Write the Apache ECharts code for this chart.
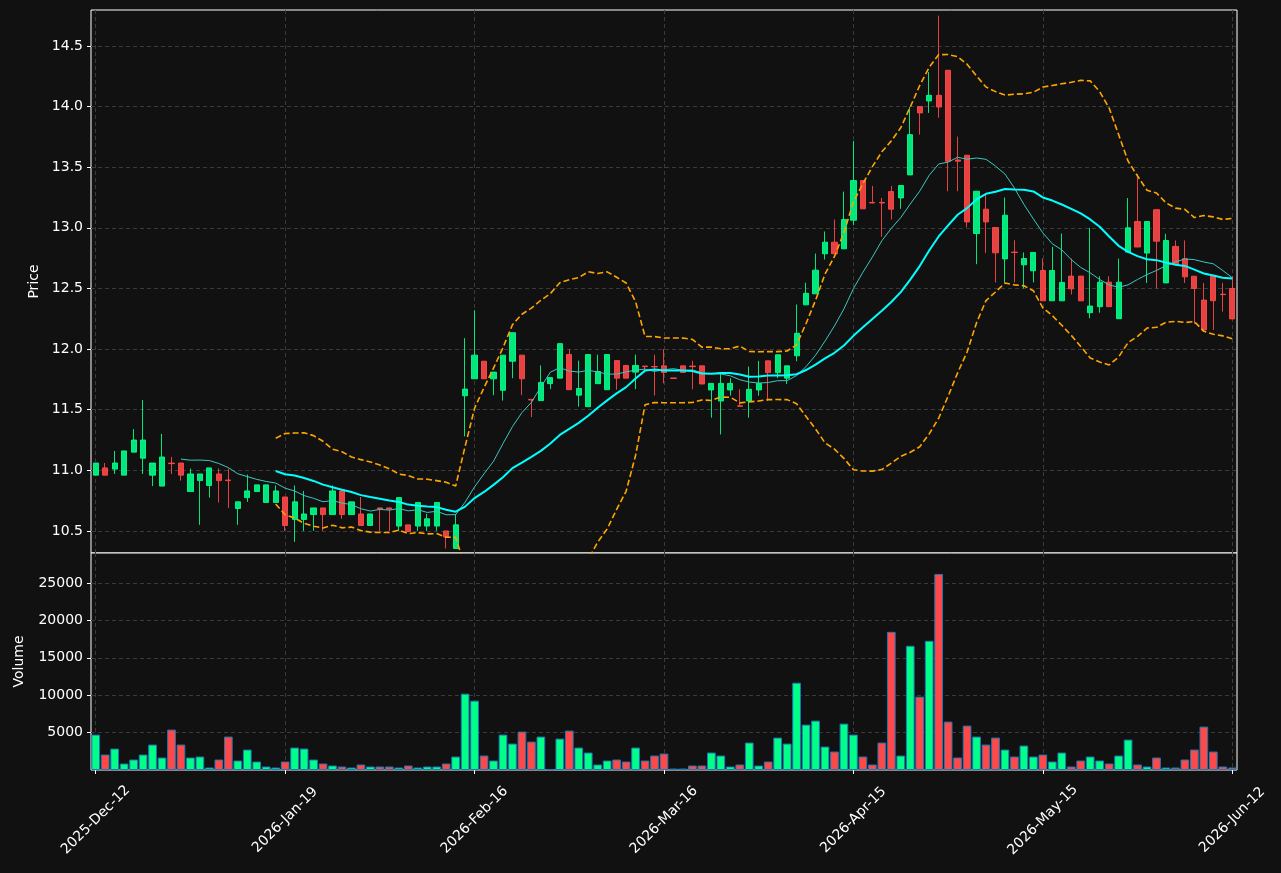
<!DOCTYPE html>
<html>
<head>
<meta charset="utf-8">
<script src="https://cdn.jsdelivr.net/npm/echarts@6/dist/echarts.min.js"></script>
<style>
html, body {margin: 0; padding: 0; background: #111111;}
#main {width: 1281px; height: 873px;}
</style>
</head>
<body>
<div id="main"></div>
<script>
// daily candles + volume, ticks every 20 bars
const tickDates = ['2025-Dec-12', '2026-Jan-19', '2026-Feb-16', '2026-Mar-16', '2026-Apr-15', '2026-May-15', '2026-Jun-12'];
const tickStep = 20;
const priceTicks = [10.5, 11.0, 11.5, 12.0, 12.5, 13.0, 13.5, 14.0, 14.5];
const volumeTicks = [5000, 10000, 15000, 20000, 25000];

const opens = [
    10.96, 11.02, 11.01, 10.96, 11.15, 11.10, 10.96, 10.87, 11.06, 11.06,
    10.825, 10.915, 10.875, 10.97, 10.92, 10.685, 10.775, 10.825, 10.735, 10.735,
    10.78, 10.595, 10.595, 10.635, 10.69, 10.635, 10.83, 10.635, 10.64, 10.545,
    10.69, 10.69, 10.54, 10.55, 10.54, 10.54, 10.54, 10.50, 10.355, 11.615,
    11.755, 11.90, 11.755, 11.66, 11.90, 11.95, 11.585, 11.575, 11.715, 11.76,
    11.955, 11.62, 11.525, 11.715, 11.665, 11.905, 11.865, 11.81, 11.86, 11.856,
    11.862, 11.762, 11.862, 11.86, 11.862, 11.663, 11.572, 11.663, 11.532, 11.572,
    11.663, 11.903, 11.806, 11.76, 11.945, 12.365, 12.456, 12.786, 12.882, 12.827,
    13.063, 13.39, 13.21, 13.21, 13.299, 13.247, 13.437, 14.0, 14.047, 14.093,
    14.3, 13.56, 13.599, 12.953, 13.154, 13.003, 12.744, 12.80, 12.695, 12.646,
    12.648, 12.398, 12.398, 12.602, 12.602, 12.30, 12.35, 12.552, 12.251, 12.80,
    13.052, 12.792, 13.15, 12.546, 12.847, 12.746, 12.601, 12.404, 12.601, 12.453,
    12.50
];
const closes = [
    11.06, 10.96, 11.06, 11.16, 11.25, 11.25, 11.06, 11.11, 11.055, 10.96,
    10.97, 10.97, 11.02, 10.915, 10.915, 10.74, 10.83, 10.88, 10.88, 10.83,
    10.545, 10.74, 10.64, 10.69, 10.635, 10.83, 10.635, 10.74, 10.545, 10.64,
    10.68, 10.68, 10.775, 10.495, 10.735, 10.60, 10.735, 10.45, 10.55, 11.67,
    11.95, 11.755, 11.81, 11.95, 12.135, 11.755, 11.58, 11.725, 11.765, 12.045,
    11.665, 11.675, 11.955, 11.815, 11.955, 11.76, 11.76, 11.865, 11.855, 11.853,
    11.807, 11.758, 11.807, 11.855, 11.712, 11.717, 11.717, 11.717, 11.528, 11.668,
    11.717, 11.806, 11.953, 11.862, 12.13, 12.46, 12.651, 12.882, 12.786, 13.069,
    13.39, 13.157, 13.205, 13.205, 13.154, 13.349, 13.769, 13.948, 14.093, 13.997,
    13.549, 13.55, 13.049, 13.302, 13.049, 12.794, 13.104, 12.797, 12.747, 12.797,
    12.398, 12.648, 12.55, 12.497, 12.398, 12.355, 12.552, 12.35, 12.552, 13.0,
    12.842, 13.052, 12.89, 12.896, 12.70, 12.596, 12.50, 12.158, 12.399, 12.449,
    12.249
];
const lows = [
    10.96, 10.96, 10.97, 10.96, 11.15, 10.97, 10.87, 10.87, 10.97, 10.915,
    10.825, 10.55, 10.775, 10.735, 10.69, 10.55, 10.74, 10.825, 10.735, 10.735,
    10.50, 10.41, 10.50, 10.50, 10.50, 10.635, 10.60, 10.635, 10.545, 10.545,
    10.50, 10.50, 10.50, 10.495, 10.50, 10.50, 10.50, 10.355, 10.355, 11.28,
    11.755, 11.755, 11.62, 11.575, 11.76, 11.62, 11.44, 11.575, 11.67, 11.76,
    11.665, 11.525, 11.525, 11.715, 11.665, 11.665, 11.76, 11.67, 11.81, 11.617,
    11.717, 11.758, 11.807, 11.668, 11.712, 11.434, 11.296, 11.616, 11.525, 11.434,
    11.616, 11.572, 11.76, 11.712, 11.90, 12.365, 12.456, 12.739, 12.786, 12.827,
    13.022, 13.157, 13.203, 12.926, 13.069, 13.157, 13.437, 13.769, 13.948, 13.909,
    13.302, 13.302, 13.003, 12.70, 12.794, 12.55, 12.55, 12.55, 12.50, 12.55,
    12.398, 12.398, 12.398, 12.45, 12.398, 12.254, 12.30, 12.35, 12.251, 12.80,
    12.842, 12.546, 12.50, 12.546, 12.70, 12.546, 12.208, 12.158, 12.158, 12.309,
    12.249
];
const highs = [
    11.06, 11.06, 11.16, 11.16, 11.34, 11.58, 11.06, 11.30, 11.11, 11.06,
    11.015, 10.97, 11.02, 11.015, 11.015, 10.74, 10.965, 10.88, 10.88, 10.875,
    10.78, 10.875, 10.83, 10.69, 10.69, 10.875, 10.83, 10.74, 10.78, 10.64,
    10.69, 10.69, 10.775, 10.55, 10.735, 10.64, 10.735, 10.50, 10.64, 12.09,
    12.32, 11.90, 11.81, 11.95, 12.135, 11.95, 11.585, 11.865, 11.765, 12.045,
    12.0, 11.905, 11.955, 11.955, 11.955, 11.905, 11.865, 11.955, 11.86, 11.953,
    12.0, 11.762, 11.862, 11.903, 11.862, 11.717, 11.806, 11.76, 11.668, 11.856,
    11.903, 11.903, 11.953, 11.862, 12.368, 12.547, 12.788, 12.97, 13.069, 13.299,
    13.717, 13.39, 13.346, 13.247, 13.346, 13.349, 13.997, 14.0, 14.286, 14.75,
    14.3, 13.753, 13.599, 13.302, 13.283, 13.003, 13.25, 12.898, 12.797, 12.797,
    12.747, 12.843, 12.953, 12.747, 12.602, 13.0, 12.601, 12.601, 12.746, 13.246,
    13.443, 13.052, 13.15, 12.951, 12.896, 12.896, 12.601, 12.546, 12.601, 12.546,
    12.601
];
const volumes = [
    4733, 2067, 2867, 867, 1400, 2067, 3400, 1667, 5400, 3400,
    1667, 1800, 333, 1400, 4467, 1267, 2733, 1133, 467, 333,
    1133, 3000, 2867, 1400, 867, 600, 467, 333, 733, 467,
    467, 467, 333, 600, 333, 467, 467, 867, 1800, 10200,
    9267, 1933, 1267, 4733, 3533, 5133, 3800, 4467, 100, 4200,
    5267, 3000, 2333, 733, 1267, 1400, 1133, 3000, 1267, 1933,
    2200, 200, 200, 600, 600, 2333, 1933, 467, 733, 3667,
    600, 1133, 4333, 3533, 11667, 6067, 6600, 3133, 2467, 6200,
    4733, 1800, 733, 3667, 18467, 1933, 16600, 9800, 17267, 26200,
    6467, 1667, 5933, 4467, 3400, 4333, 2733, 1800, 3267, 1800,
    2067, 1133, 2333, 467, 1267, 1800, 1267, 867, 1933, 4067,
    733, 467, 1667, 333, 333, 1400, 2733, 5800, 2467, 467,
    333
];

const upColor = '#00ff88';
const downColor = '#ff4848';
const gridColor = '#3a3a3a';
const fontFamily = 'DejaVu Sans';

function sma(arr, n) {
    return arr.map(function (v, i) {
        if (i < n - 1) return '-';
        let s = 0;
        for (let k = i - n + 1; k <= i; k++) s += arr[k];
        return +(s / n).toFixed(4);
    });
}

function band(arr, n, k) {
    return arr.map(function (v, i) {
        if (i < n - 1) return '-';
        let s = 0;
        for (let j = i - n + 1; j <= i; j++) s += arr[j];
        let m = s / n;
        let q = 0;
        for (let j = i - n + 1; j <= i; j++) q += (arr[j] - m) * (arr[j] - m);
        return +(m + k * Math.sqrt(q / (n - 1))).toFixed(4);
    });
}

let days = opens.map(function (v, i) { return String(i); });
let candles = opens.map(function (o, i) { return [o, closes[i], lows[i], highs[i]]; });
let ma10 = sma(closes, 10);
let ma20 = sma(closes, 20);
let bbUpper = band(closes, 20, 2);
let bbLower = band(closes, 20, -2);
let volBars = volumes.map(function (v, i) {
    return {value: v, itemStyle: {color: closes[i] >= opens[i] ? upColor : downColor}};
});

let dom = document.getElementById('main');
let myChart = echarts.init(dom);

let splitStyle = {lineStyle: {color: gridColor, width: 1, type: [4, 3]}};

let option = {
    animation: false,
    backgroundColor: '#111111',
    textStyle: {fontFamily: fontFamily, color: '#ffffff'},
    grid: [
        {left: 91, top: 10, width: 1146, height: 543, show: true, borderColor: '#ffffff', borderWidth: 1, backgroundColor: '#111111'},
        {left: 91, top: 553, width: 1146, height: 217, show: true, borderColor: '#ffffff', borderWidth: 1, backgroundColor: '#111111'}
    ],
    xAxis: [
        {
            type: 'category', gridIndex: 0, data: days, boundaryGap: true,
            axisLine: {show: false},
            axisTick: {show: false},
            axisLabel: {show: false},
            splitLine: Object.assign({show: true, interval: tickStep - 1, alignWithLabel: true}, splitStyle)
        },
        {
            type: 'category', gridIndex: 1, data: days, boundaryGap: true,
            axisLine: {show: false},
            axisTick: {show: true, interval: tickStep - 1, alignWithLabel: true, length: 4, lineStyle: {color: '#ffffff'}},
            axisLabel: {
                interval: tickStep - 1, rotate: 45, color: '#ffffff', fontSize: 14, fontFamily: fontFamily,
                align: 'center', verticalAlign: 'middle', margin: 50,
                formatter: function (v, i) { return tickDates[i / tickStep] || ''; }
            },
            splitLine: Object.assign({show: true, interval: tickStep - 1, alignWithLabel: true}, splitStyle)
        }
    ],
    yAxis: [
        {
            type: 'value', gridIndex: 0, min: 10.318, max: 14.797, minInterval: 0.5, maxInterval: 0.5,
            axisLine: {show: false},
            axisTick: {show: true, customValues: priceTicks, length: 4, lineStyle: {color: '#ffffff'}},
            axisLabel: {customValues: priceTicks, color: '#ffffff', fontSize: 14, fontFamily: fontFamily,
                formatter: function (v) { return v.toFixed(1); }},
            splitLine: Object.assign({show: true}, splitStyle),
            name: 'Price', nameLocation: 'middle', nameGap: 50,
            nameTextStyle: {color: '#ffffff', fontSize: 14, fontFamily: fontFamily}
        },
        {
            type: 'value', gridIndex: 1, min: 0, max: 29000, minInterval: 5000, maxInterval: 5000,
            axisLine: {show: false},
            axisTick: {show: true, customValues: volumeTicks, length: 4, lineStyle: {color: '#ffffff'}},
            axisLabel: {customValues: volumeTicks, color: '#ffffff', fontSize: 14, fontFamily: fontFamily,
                formatter: function (v) { return String(v); }},
            splitLine: Object.assign({show: true}, splitStyle),
            name: 'Volume', nameLocation: 'middle', nameGap: 65,
            nameTextStyle: {color: '#ffffff', fontSize: 14, fontFamily: fontFamily}
        }
    ],
    series: [
        {
            name: 'Candles', type: 'candlestick', xAxisIndex: 0, yAxisIndex: 0,
            data: candles, barWidth: '60%',
            itemStyle: {
                color: upColor, color0: downColor,
                borderColor: upColor, borderColor0: downColor,
                borderWidth: 1, opacity: 0.9
            }
        },
        {
            name: 'MA10', type: 'line', xAxisIndex: 0, yAxisIndex: 0, data: ma10,
            symbol: 'none', lineStyle: {color: '#3cc8c0', width: 1}
        },
        {
            name: 'MA20', type: 'line', xAxisIndex: 0, yAxisIndex: 0, data: ma20,
            symbol: 'none', lineStyle: {color: '#00ffff', width: 2}
        },
        {
            name: 'BB Upper', type: 'line', xAxisIndex: 0, yAxisIndex: 0, data: bbUpper,
            symbol: 'none', clip: true, lineStyle: {color: '#ffa500', width: 1.6, type: [6, 3]}
        },
        {
            name: 'BB Lower', type: 'line', xAxisIndex: 0, yAxisIndex: 0, data: bbLower,
            symbol: 'none', clip: true, lineStyle: {color: '#ffa500', width: 1.6, type: [6, 3]}
        },
        {
            name: 'Volume', type: 'bar', xAxisIndex: 1, yAxisIndex: 1, data: volBars,
            barCategoryGap: '8%',
            itemStyle: {borderColor: '#1f77b4', borderWidth: 1}
        }
    ]
};

if (option && typeof option === 'object') {
    myChart.setOption(option, true);
}
</script>
</body>
</html>
